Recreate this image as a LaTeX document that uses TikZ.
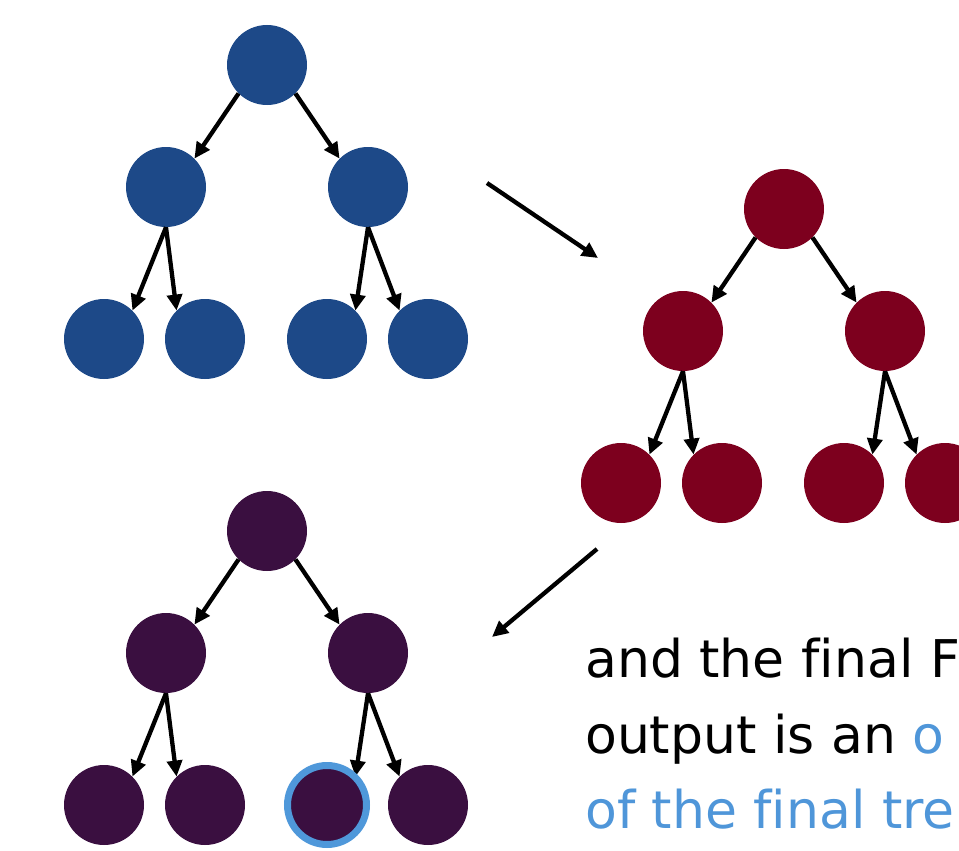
\documentclass[tikz,border=0pt]{standalone}
\usepackage{fontspec}
\setmainfont[Ligatures=NoCommon]{DejaVu Sans}
\usetikzlibrary{arrows.meta}
\definecolor{treeblue}{HTML}{1D4988}
\definecolor{treered}{HTML}{7D001E}
\definecolor{treepurple}{HTML}{3A0F40}
\definecolor{ringblue}{HTML}{4F98DA}
\definecolor{txtblue}{HTML}{4F96D9}
\tikzset{
  ball/.style={circle, inner sep=0pt, minimum size=80pt, fill=#1},
  link/.style={line width=4.3pt, -{Triangle[length=16pt,width=15pt]}},
  caption/.style={anchor=base west, inner sep=0pt, font=\fontsize{52}{75}\selectfont},
}
% #1 name prefix, #2 fill colour, #3/#4 root position
\newcommand\binarytree[4]{%
  \begin{scope}[shift={(#3,#4)}]
    \node[ball=#2] (#1r)  at (0,0) {};
    \node[ball=#2] (#1a)  at (-101,122) {};
    \node[ball=#2] (#1b)  at (101,122) {};
    \node[ball=#2] (#1aa) at (-163,274) {};
    \node[ball=#2] (#1ab) at (-62,274) {};
    \node[ball=#2] (#1ba) at (60,274) {};
    \node[ball=#2] (#1bb) at (161,274) {};
  \end{scope}
  \draw[link] (#1r.225) -- (#1a.45);
  \draw[link] (#1r.315) -- (#1b.135);
  \draw[link] (#1a.south) -- (#1aa.45);
  \draw[link] (#1a.south) -- (#1ab.135);
  \draw[link] (#1b.south) -- (#1ba.45);
  \draw[link] (#1b.south) -- (#1bb.135);
}
\begin{document}
\begin{tikzpicture}[x=1pt,y=-1pt]
  \useasboundingbox (0,0) rectangle (959,851);
  \clip (0,0) rectangle (959,851);

  \binarytree{u}{treeblue}{267}{65}
  \binarytree{v}{treered}{784}{209}
  \binarytree{w}{treepurple}{267}{531}

  % highlighted leaf
  \draw[ringblue, line width=7pt] (wba.center) circle[radius=39.5];

  % steps between the trees
  \coordinate (s1) at (487,183);
  \coordinate (e1) at (598,258);
  \coordinate (s2) at (597,549);
  \coordinate (e2) at (492,637);
  \draw[link] (s1) -- (e1);
  \draw[link] (s2) -- (e2);

  \node[caption] (l1) at (585,677) {and the final F};
  \node[caption] (l2) at (585,753) {output is an \textcolor{txtblue}{o}};
  \node[caption, text=txtblue] (l3) at (585,828) {of the final tre};
\end{tikzpicture}
\end{document}
